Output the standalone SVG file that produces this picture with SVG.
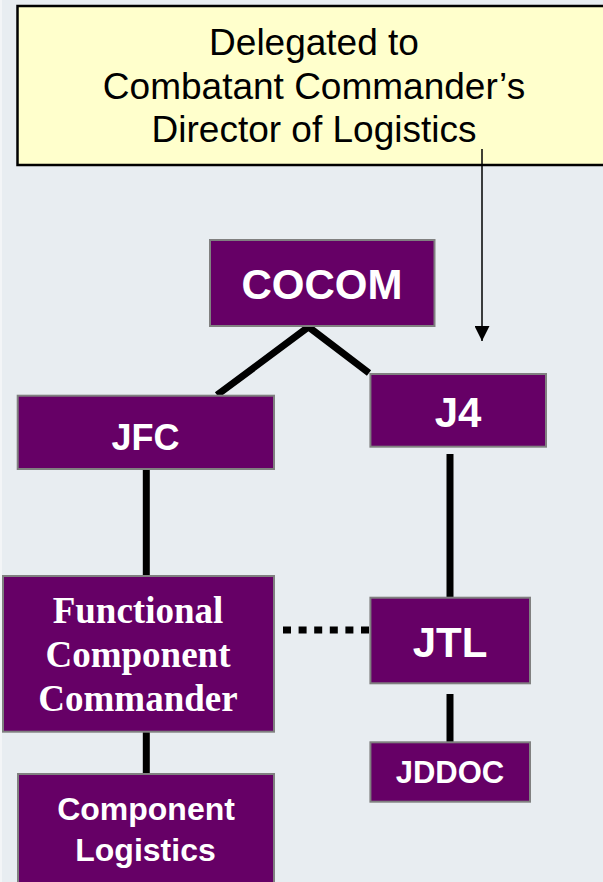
<svg xmlns="http://www.w3.org/2000/svg" width="603" height="882" viewBox="0 0 603 882">
<defs>
<style>
.node{fill:#660066;stroke:#808080;stroke-width:2}
.lbl{fill:#ffffff;font-family:"Liberation Sans",Arial,sans-serif;font-weight:bold;text-anchor:middle}
.serif{fill:#ffffff;font-family:"Liberation Serif","Times New Roman",serif;font-weight:bold;text-anchor:middle;font-size:37px}
.note{fill:#000000;font-family:"Liberation Sans",Arial,sans-serif;font-size:37px;text-anchor:middle}
.conn{stroke:#000000;stroke-width:7;fill:none}
</style>
<marker id="arrow" markerWidth="16" markerHeight="15" refX="15" refY="7.5" orient="auto" markerUnits="userSpaceOnUse">
<path d="M0,0 L15,7.5 L0,15 Z" fill="#000000"/>
</marker>
</defs>
<rect x="0" y="0" width="603" height="882" fill="#E8EDF1"/>
<rect x="0" y="0" width="2" height="882" fill="#F3F5F7"/>

<g id="note">
<rect x="17.5" y="6" width="600" height="159" fill="#FFFFCC" stroke="#000000" stroke-width="2.5"/>
<text class="note" x="314" y="55">Delegated to</text>
<text class="note" x="314" y="98.5">Combatant Commander’s</text>
<text class="note" x="314" y="142">Director of Logistics</text>
</g>

<g id="connectors">
<line x1="482" y1="149" x2="482" y2="341" stroke="#000000" stroke-width="1.5" marker-end="url(#arrow)"/>
<polyline class="conn" points="217,395 308.5,327 369,373"/>
<line class="conn" x1="146.3" y1="469" x2="146.3" y2="576"/>
<line class="conn" x1="450" y1="454" x2="450" y2="598"/>
<line class="conn" x1="283" y1="630" x2="369" y2="630" stroke-dasharray="8 7.6"/>
<line class="conn" x1="450" y1="694" x2="450" y2="742"/>
<line class="conn" x1="146.3" y1="731.7" x2="146.3" y2="774"/>
</g>

<g id="cocom">
<rect class="node" x="210" y="240" width="224.5" height="86"/>
<text class="lbl" x="322" y="299" font-size="42">COCOM</text>
</g>

<g id="jfc">
<rect class="node" x="17.7" y="395.7" width="256.3" height="73.3"/>
<text class="lbl" x="145.5" y="450" font-size="36">JFC</text>
</g>

<g id="j4">
<rect class="node" x="370.4" y="374" width="175.6" height="72.7"/>
<text class="lbl" x="458" y="426.5" font-size="42">J4</text>
</g>

<g id="fcc">
<rect class="node" x="3" y="576" width="271" height="155.7"/>
<text class="serif" x="138" y="623">Functional</text>
<text class="serif" x="138" y="667">Component</text>
<text class="serif" x="138" y="711">Commander</text>
</g>

<g id="jtl">
<rect class="node" x="370.4" y="597.7" width="159.6" height="85.6"/>
<text class="lbl" x="450" y="656.7" font-size="42">JTL</text>
</g>

<g id="jddoc">
<rect class="node" x="370.4" y="742.3" width="159.6" height="59.4"/>
<text class="lbl" x="450" y="782.7" font-size="31">JDDOC</text>
</g>

<g id="complog">
<rect class="node" x="18" y="774" width="256" height="120"/>
<text class="lbl" x="146" y="820" font-size="32">Component</text>
<text class="lbl" x="145.5" y="860.5" font-size="32">Logistics</text>
</g>
</svg>
